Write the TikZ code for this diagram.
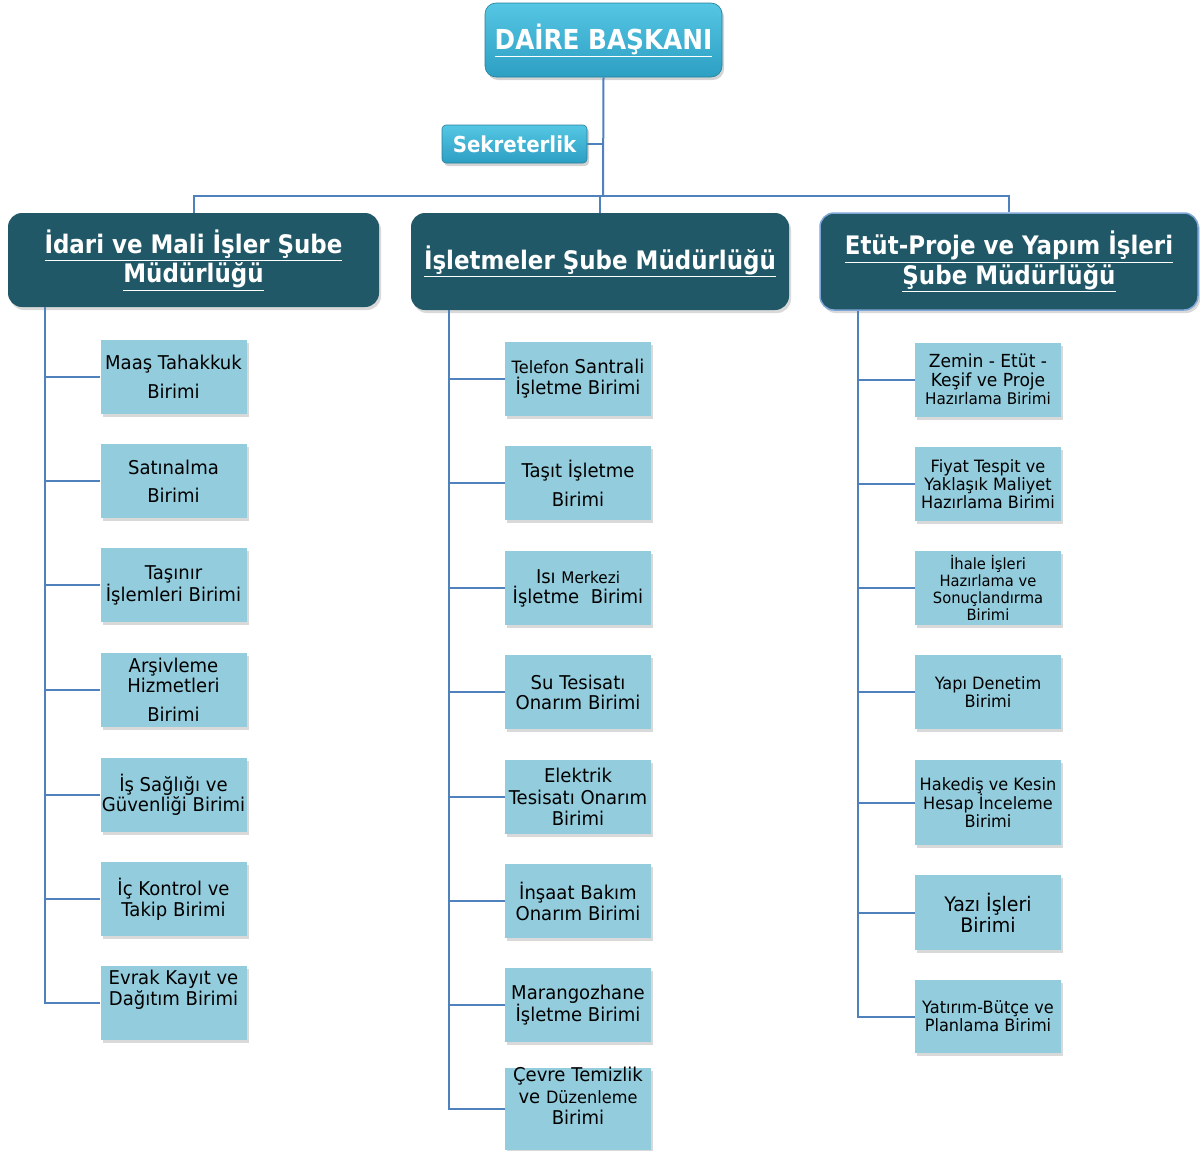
\documentclass[tikz,border=0pt]{standalone}
\usepackage{fontspec}
\setmainfont{DejaVu Sans}[FakeStretch=0.95]
\newfontfamily\titlefont{DejaVu Sans Bold}[FakeStretch=0.9]
\usetikzlibrary{shadows,calc}
\definecolor{conn}{HTML}{4F81BD}
\definecolor{leaffill}{HTML}{93CDDD}
\definecolor{branchfill}{HTML}{215868}
\definecolor{topA}{HTML}{55C6E3}
\definecolor{topB}{HTML}{2D9FC3}
\definecolor{brborder}{HTML}{7FA6D6}
\newcommand\fz[2]{\fontsize{#1}{#2}\selectfont}
\begin{document}
\begin{tikzpicture}[x=1pt,y=-1pt,
  leaf/.style={rectangle, fill=leaffill, minimum width=146pt, minimum height=74pt,
    inner sep=0pt, align=center, text=black,
    drop shadow={shadow xshift=2pt,shadow yshift=-3pt,opacity=0.3}},
  branch/.style={rectangle, rounded corners=14pt, fill=branchfill, inner sep=0pt,
    align=center, text=white, font=\titlefont\fz{25.5}{29.5},
    drop shadow={shadow xshift=2pt,shadow yshift=-3pt,opacity=0.3}},
  topbox/.style={rectangle, rounded corners=11pt, top color=topA, bottom color=topB,
    draw=topB!80!black, line width=0.6pt, inner sep=0pt, align=center, text=white,
    drop shadow={shadow xshift=2pt,shadow yshift=-3pt,opacity=0.35}},
  cline/.style={draw=conn, line width=2pt}
]
\useasboundingbox (0,0) rectangle (1200,1151);

% top
\node[topbox, minimum width=237pt, minimum height=74pt, font=\titlefont\fz{27.5}{32}] (top) at (603.5,40) {\underline{DAİRE BAŞKANI}};
\node[topbox, rounded corners=4pt, minimum width=145pt, minimum height=38pt, font=\titlefont\fz{22}{26}] (sek) at (514.5,144) {Sekreterlik};

% branches
\node[branch, minimum width=371pt, minimum height=94pt] (b1) at (193.5,260) {\underline{İdari ve Mali İşler Şube}\\\underline{Müdürlüğü}};
\node[branch, minimum width=378pt, minimum height=97pt] (b2) at (600,261.5) {\underline{İşletmeler Şube Müdürlüğü}};
\node[branch, minimum width=378pt, minimum height=97pt, draw=brborder, line width=1.5pt] (b3) at (1009,261.5) {\underline{Etüt-Proje ve Yapım İşleri}\\\underline{Şube Müdürlüğü}};

\coordinate (j) at (603,196);
\draw[cline] (top.south) -- (j);
\draw[cline] (sek.east) -- (sek.east -| top.south);
\draw[cline] (b1.north) |- (b3.north |- j) -- (b3.north);
\draw[cline] (b2.north |- j) -- (b2.north);

% left column
\node[leaf, font=\fz{19}{22}] (l1) at (173.5,377) {Maaş Tahakkuk\\[7pt]Birimi};
\node[leaf, font=\fz{19}{22}] (l2) at (173.5,481) {Satınalma\\[6pt]Birimi};
\node[leaf, font=\fz{19}{21}] (l3) at (173.5,585) {Taşınır\\İşlemleri Birimi};
\node[leaf, font=\fz{19}{20}] (l4) at (173.5,690) {Arşivleme\\Hizmetleri\\[9pt]Birimi};
\node[leaf, font=\fz{19}{20}] (l5) at (173.5,794.5) {İş Sağlığı ve\\Güvenliği Birimi};
\node[leaf, font=\fz{19}{21}] (l6) at (173.5,899) {İç Kontrol ve\\Takip Birimi};
\node[leaf, font=\fz{19}{21}] (l7) at (173.5,1003) {Evrak Kayıt ve\\Dağıtım Birimi\\[10pt]\mbox{}};

\coordinate (s1) at ($(b1.south west)+(37,0)$);
\draw[cline] (s1) |- (l7.west);
\foreach \n in {l1,l2,l3,l4,l5,l6} \draw[cline] (\n.west) -- (\n.west -| s1);

% middle column
\node[leaf, font=\fz{19}{21}] (m1) at (578,379) {{\fz{17}{21}Telefon} Santrali\\İşletme Birimi};
\node[leaf, font=\fz{19}{22}] (m2) at (578,483) {Taşıt İşletme\\[7pt]Birimi};
\node[leaf, font=\fz{19}{20}] (m3) at (578,588) {Isı {\fz{16}{20}Merkezi}\\İşletme~ Birimi};
\node[leaf, font=\fz{19}{20}] (m4) at (578,692) {Su Tesisatı\\Onarım Birimi};
\node[leaf, font=\fz{19}{21.5}] (m5) at (578,797) {Elektrik\\Tesisatı Onarım\\Birimi};
\node[leaf, font=\fz{19}{21}] (m6) at (578,901) {İnşaat Bakım\\Onarım Birimi};
\node[leaf, font=\fz{19}{21}] (m7) at (578,1005) {Marangozhane\\İşletme Birimi};
\node[leaf, font=\fz{19}{21.5}] (m8) at (578,1109) {Çevre Temizlik\\ve {\fz{17}{21.5}Düzenleme}\\Birimi\\[4pt]\mbox{}};

\coordinate (s2) at ($(b2.south west)+(38,0)$);
\draw[cline] (s2) |- (m8.west);
\foreach \n in {m1,m2,m3,m4,m5,m6,m7} \draw[cline] (\n.west) -- (\n.west -| s2);

% right column
\node[leaf, font=\fz{18}{18.5}] (r1) at (988,379.5) {Zemin - Etüt -\\Keşif ve Proje\\{\fz{16}{18.5}Hazırlama Birimi}};
\node[leaf, font=\fz{17}{18}] (r2) at (988,484) {Fiyat Tespit ve\\Yaklaşık Maliyet\\Hazırlama Birimi};
\node[leaf, font=\fz{15.5}{17}] (r3) at (988,588) {İhale İşleri\\Hazırlama ve\\Sonuçlandırma\\Birimi};
\node[leaf, font=\fz{17}{18}] (r4) at (988,692) {Yapı Denetim\\Birimi};
\node[leaf, font=\fz{17}{18}, minimum height=85pt] (r5) at (988,802.5) {Hakediş ve Kesin\\Hesap İnceleme\\Birimi};
\node[leaf, font=\fz{20}{21}, minimum height=75pt] (r6) at (988,912.5) {Yazı İşleri\\Birimi};
\node[leaf, font=\fz{17}{18}, minimum height=73pt] (r7) at (988,1016.5) {Yatırım-Bütçe ve\\Planlama Birimi};

\coordinate (s3) at ($(b3.south west)+(39,0)$);
\draw[cline] (s3) |- (r7.west);
\foreach \n in {r1,r2,r3,r4,r5,r6} \draw[cline] (\n.west) -- (\n.west -| s3);
\end{tikzpicture}
\end{document}
